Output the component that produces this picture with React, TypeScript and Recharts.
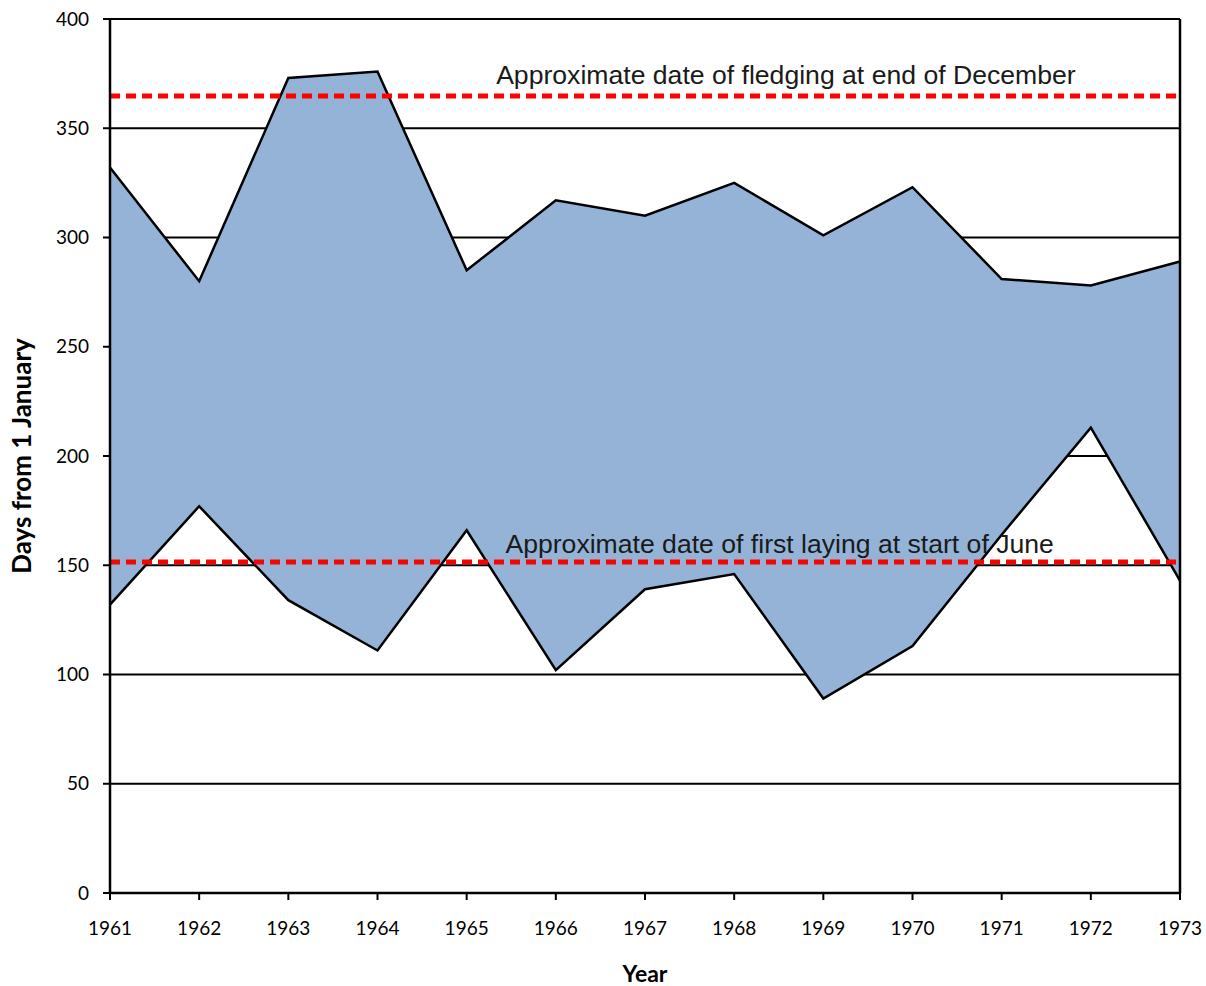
import React from 'react';
import {
  ComposedChart,
  Area,
  Line,
  XAxis,
  YAxis,
  CartesianGrid,
  ReferenceLine,
  ReferenceDot,
  Label,
} from 'recharts';

const years = [1961, 1962, 1963, 1964, 1965, 1966, 1967, 1968, 1969, 1970, 1971, 1972, 1973];
const firstLaying = [132, 177, 134, 111, 166, 102, 139, 146, 89, 113, 164, 213, 143];
const lastFledging = [332, 280, 373, 376, 285, 317, 310, 325, 301, 323, 281, 278, 289];
const yTicks = [0, 50, 100, 150, 200, 250, 300, 350, 400];

const fledgingRef = 364.8;
const layingRef = 151.5;
const fledgingText = 'Approximate date of fledging at end of December';
const layingText = 'Approximate date of first laying at start of June';

const data = years.map((year, i) => ({
  year,
  low: firstLaying[i],
  high: lastFledging[i],
  range: [firstLaying[i], lastFledging[i]],
}));

const tickStyle = { fontFamily: 'Lato, sans-serif', fontSize: 19, fill: '#000' };
const noteStyle = { fontFamily: '"Liberation Sans", Arial, sans-serif', fontSize: 26.6, fill: '#1a1a1a' };

export default function App() {
  return (
    <div style={{ position: 'absolute', top: 0, left: 0, width: 1206, height: 986, overflow: 'hidden' }}>
      <ComposedChart
        width={1206}
        height={986}
        data={data}
        margin={{ top: 19, right: 26, bottom: 0, left: 0 }}
      >
        <CartesianGrid vertical={false} stroke="#000" strokeWidth={2} strokeOpacity={1} />
        <XAxis
          dataKey="year"
          type="number"
          domain={[1961, 1973]}
          ticks={years}
          interval={0}
          height={93}
          tickSize={7}
          tickMargin={22}
          tick={tickStyle}
          tickLine={{ stroke: '#000', strokeWidth: 2 }}
          axisLine={{ stroke: '#000', strokeWidth: 2.5 }}
        >
          <Label
            value="Year"
            position="insideBottom"
            offset={4}
            style={{ fontFamily: 'Lato, sans-serif', fontSize: 23, fontWeight: 700, fill: '#000' }}
          />
        </XAxis>
        <YAxis
          type="number"
          domain={[0, 400]}
          ticks={yTicks}
          interval={0}
          width={110}
          tickSize={7}
          tickMargin={14}
          tick={tickStyle}
          tickLine={{ stroke: '#000', strokeWidth: 2 }}
          axisLine={{ stroke: '#000', strokeWidth: 2.5 }}
        >
          <Label
            value="Days from 1 January"
            angle={-90}
            position="insideLeft"
            offset={22}
            style={{ textAnchor: 'middle', fontFamily: 'Lato, sans-serif', fontSize: 26, fontWeight: 700, fill: '#000' }}
          />
        </YAxis>
        <Area
          dataKey="range"
          type="linear"
          fill="#95B3D7"
          fillOpacity={1}
          stroke="none"
          isAnimationActive={false}
        />
        <Line dataKey="low" type="linear" stroke="#000" strokeWidth={2.5} dot={false} isAnimationActive={false} />
        <Line dataKey="high" type="linear" stroke="#000" strokeWidth={2.5} dot={false} isAnimationActive={false} />
        <ReferenceLine x={1973} stroke="#000" strokeWidth={2.5} />
        <ReferenceLine y={fledgingRef} stroke="#ff0000" strokeWidth={5} strokeDasharray="10 6" />
        <ReferenceLine y={layingRef} stroke="#ff0000" strokeWidth={5} strokeDasharray="10 6" />
        <ReferenceDot
          x={1968.58}
          y={374.8}
          r={0}
          fill="none"
          stroke="none"
          label={{ value: fledgingText, position: 'center', ...noteStyle }}
        />
        <ReferenceDot
          x={1968.51}
          y={159.7}
          r={0}
          fill="none"
          stroke="none"
          label={{ value: layingText, position: 'center', ...noteStyle }}
        />
      </ComposedChart>
    </div>
  );
}
